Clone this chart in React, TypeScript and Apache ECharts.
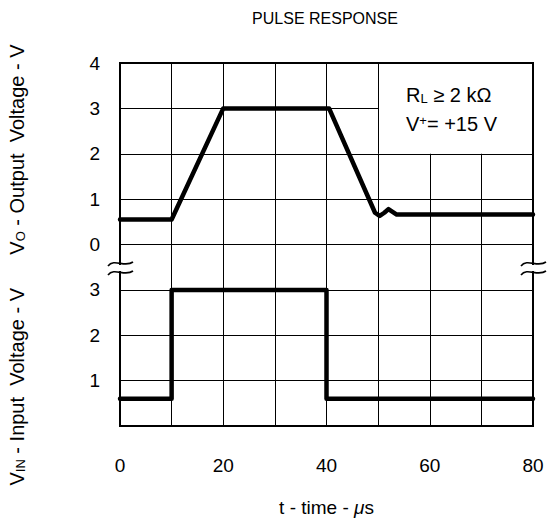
import React, { useEffect, useRef } from "react";
import * as echarts from "echarts";

// ---- data ----
const outTime = [0, 10, 20, 40.5, 49.4, 50.3, 51.2, 52, 52.8, 53.6, 80];
const outVolt = [0.55, 0.55, 3, 3, 0.7, 0.63, 0.7, 0.78, 0.72, 0.66, 0.66];
const inTime = [0, 10, 10, 40, 40, 80];
const inVolt = [0.6, 0.6, 3, 3, 0.6, 0.6];
// stacked axis: 0..3 = input volts, 4..8 = output volts 0..4
const OUT_OFFSET = 4;
const yTickLabels = ["", "1", "2", "3", "0", "1", "2", "3", "4"];
const xTickLabels: Record<number, string> = { 0: "0", 20: "20", 40: "40", 60: "60", 80: "80" };

const FONT = "Liberation Sans, Arial, Helvetica, sans-serif";
const FS = 19;

export default function App() {
  const ref = useRef<HTMLDivElement>(null);
  useEffect(() => {
    if (!ref.current) return;
    const chart = echarts.init(ref.current, undefined, { renderer: "svg" });
    const curve = { color: "#000", width: 4.5, cap: "round", join: "round" };
    const squig = { stroke: "#000", lineWidth: 1.6, fill: null };
    const option: any = {
      animation: false,
      textStyle: { fontFamily: FONT },
      title: {
        text: "PULSE RESPONSE",
        left: 320,
        top: 5,
        textAlign: "center",
        textStyle: { fontFamily: FONT, fontSize: 16, fontWeight: "normal", color: "#000" },
      },
      grid: {
        left: 120, right: 14, top: 63, bottom: 98,
        show: true, borderColor: "#000", borderWidth: 2, backgroundColor: "transparent", z: 10,
      },
      xAxis: {
        type: "value", min: 0, max: 80, interval: 10,
        axisLine: { show: false }, axisTick: { show: false },
        splitLine: { show: true, lineStyle: { color: "#000", width: 1 } },
        axisLabel: {
          margin: 30, fontSize: FS, color: "#000", fontFamily: FONT,
          formatter: (v: number) => xTickLabels[v] ?? "",
        },
        name: "t - time - {i|μ}s",
        nameLocation: "middle",
        nameGap: 72,
        nameTextStyle: {
          fontSize: FS, color: "#000", fontFamily: FONT,
          rich: { i: { fontSize: FS, fontStyle: "italic", fontFamily: FONT, color: "#000" } },
        },
      },
      yAxis: {
        type: "value", min: 0, max: 8, interval: 1,
        axisLine: { show: false }, axisTick: { show: false },
        splitLine: { show: true, lineStyle: { color: "#000", width: 1 } },
        axisLabel: {
          margin: 20, fontSize: FS, color: "#000", fontFamily: FONT,
          formatter: (v: number) => yTickLabels[Math.round(v)] ?? "",
        },
      },
      series: [
        {
          type: "line", name: "Output",
          data: outTime.map((t, i) => [t, outVolt[i] + OUT_OFFSET]),
          symbol: "none", lineStyle: curve, z: 5,
          markArea: {
            silent: true, itemStyle: { color: "#fff" },
            data: [[{ coord: [50, 6] }, { coord: [80, 8] }]],
          },
          markLine: {
            silent: true, symbol: ["none", "none"], label: { show: false },
            lineStyle: { color: "#000", width: 1, type: "solid" },
            data: [
              [{ coord: [50, 6] }, { coord: [50, 8] }],
              [{ coord: [50, 6] }, { coord: [80, 6] }],
            ],
          },
        },
        {
          type: "line", name: "Input",
          data: inTime.map((t, i) => [t, inVolt[i]]),
          symbol: "none", lineStyle: curve, z: 5,
        },
      ],
      graphic: [
        { type: "rect", z: 100, shape: { x: 116, y: 265, width: 8, height: 6 }, style: { fill: "#fff" } },
        { type: "rect", z: 100, shape: { x: 529, y: 265, width: 8, height: 6 }, style: { fill: "#fff" } },
        { type: "bezierCurve", z: 101, shape: { x1: 108, y1: 266, cpx1: 114, cpy1: 258, cpx2: 125, cpy2: 268, x2: 133, y2: 262 }, style: squig },
        { type: "bezierCurve", z: 101, shape: { x1: 108, y1: 275, cpx1: 114, cpy1: 267, cpx2: 125, cpy2: 277, x2: 133, y2: 271 }, style: squig },
        { type: "bezierCurve", z: 101, shape: { x1: 521, y1: 266, cpx1: 527, cpy1: 258, cpx2: 538, cpy2: 268, x2: 546, y2: 262 }, style: squig },
        { type: "bezierCurve", z: 101, shape: { x1: 521, y1: 275, cpx1: 527, cpy1: 267, cpx2: 538, cpy2: 277, x2: 546, y2: 271 }, style: squig },
        {
          type: "text", z: 100, x: 406, y: 95,
          style: {
            text: "{n|R}{s|L}{n| ≥ 2 kΩ}",
            verticalAlign: "middle", align: "left",
            rich: {
              n: { fontSize: 20, fontFamily: FONT, fill: "#000" },
              s: { fontSize: 13, fontFamily: FONT, fill: "#000", verticalAlign: "bottom" },
            },
          },
        },
        {
          type: "text", z: 100, x: 406, y: 124,
          style: {
            text: "{n|V}{p|+}{n|= +15 V}",
            verticalAlign: "middle", align: "left",
            rich: {
              n: { fontSize: 20, fontFamily: FONT, fill: "#000" },
              p: { fontSize: 13, fontFamily: FONT, fill: "#000", verticalAlign: "top" },
            },
          },
        },
        {
          type: "text", z: 100, x: 17, y: 265, rotation: Math.PI / 2,
          style: {
            text: "{n|V}{s|IN}{n| - Input  Voltage - V      V}{s|O}{n| - Output  Voltage - V}",
            verticalAlign: "middle", align: "center",
            rich: {
              n: { fontSize: 20, fontFamily: FONT, fill: "#000" },
              s: { fontSize: 13, fontFamily: FONT, fill: "#000", verticalAlign: "bottom" },
            },
          },
        },
      ],
    };
    chart.setOption(option);
    return () => chart.dispose();
  }, []);
  return <div ref={ref} style={{ position: "absolute", left: 0, top: 0, width: 547, height: 524 }} />;
}
